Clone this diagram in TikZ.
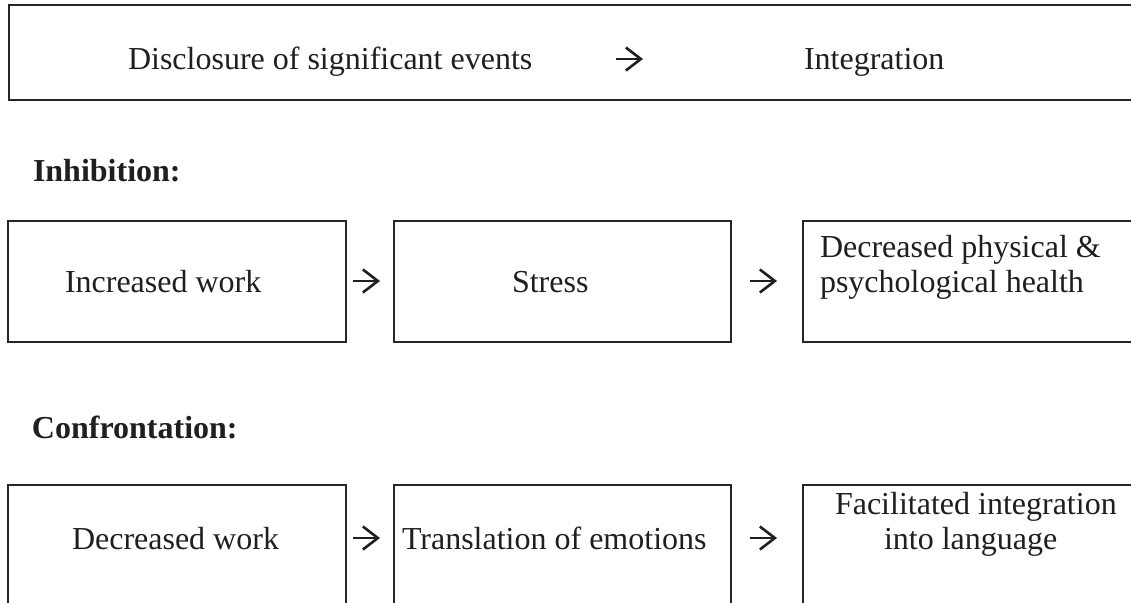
\documentclass[tikz,border=0pt]{standalone}
\usepackage{fontspec}
\setmainfont{Liberation Serif}
\usetikzlibrary{arrows.meta}
\begin{document}
\begin{tikzpicture}[x=0.5pt,y=-0.5pt,
  box/.style={draw=black!85,line width=1pt,inner sep=0pt,outer sep=0pt,anchor=north west},
  txt/.style={anchor=base west,inner sep=0pt,outer sep=0pt,font=\fontsize{16}{14}\selectfont,text=black!88},
  head/.style={txt,font=\fontsize{16}{14}\selectfont\bfseries},
  arr/.style={line width=1.3pt,draw=black!88,-{Straight Barb[length=7.5pt,width=11.5pt,line width=1.3pt]}}
]
\useasboundingbox (0,0) rectangle (1131,602);
\fill[white] (0,0) rectangle (1131,602);

% top box
\node[box,minimum width=562.5pt,minimum height=47.5pt] (top) at (9,5) {};
\node[txt] (disc) at (128,69) {Disclosure of significant events};
\node[txt] (integ) at (804,69) {Integration};
\coordinate (t0) at (616,59);
\coordinate (t1) at (643,59);
\draw[arr] (t0) -- (t1);

% Inhibition
\node[head] (inh) at (33,181) {Inhibition:};
\node[box,minimum width=169pt,minimum height=60.5pt] (i1) at (8,221) {};
\node[box,minimum width=168.5pt,minimum height=60.5pt] (i2) at (394,221) {};
\node[box,minimum width=165.5pt,minimum height=60.5pt] (i3) at (803,221) {};
\node[txt] (i1t) at (65,292) {Increased work};
\node[txt] (i2t) at (512,292) {Stress};
\node[txt] (i3a) at (820,257) {Decreased physical \&};
\node[txt] (i3b) at (820,292) {psychological health};
\coordinate (ia0) at (353,281);
\coordinate (ia1) at (380,281);
\coordinate (ib0) at (750,281);
\coordinate (ib1) at (777,281);
\draw[arr] (ia0) -- (ia1);
\draw[arr] (ib0) -- (ib1);

% Confrontation
\node[head] (conf) at (32,438) {Confrontation:};
\node[box,minimum width=169pt,minimum height=65pt] (c1) at (8,485) {};
\node[box,minimum width=168.5pt,minimum height=65pt] (c2) at (394,485) {};
\node[box,minimum width=165.5pt,minimum height=65pt] (c3) at (803,485) {};
\node[txt] (c1t) at (72,549) {Decreased work};
\node[txt] (c2t) at (402,549) {Translation of emotions};
\node[txt] (c3a) at (835,514) {Facilitated integration};
\node[txt] (c3b) at (884,549) {into language};
\coordinate (ca0) at (353,538);
\coordinate (ca1) at (380,538);
\coordinate (cb0) at (750,538);
\coordinate (cb1) at (777,538);
\draw[arr] (ca0) -- (ca1);
\draw[arr] (cb0) -- (cb1);
\end{tikzpicture}
\end{document}
